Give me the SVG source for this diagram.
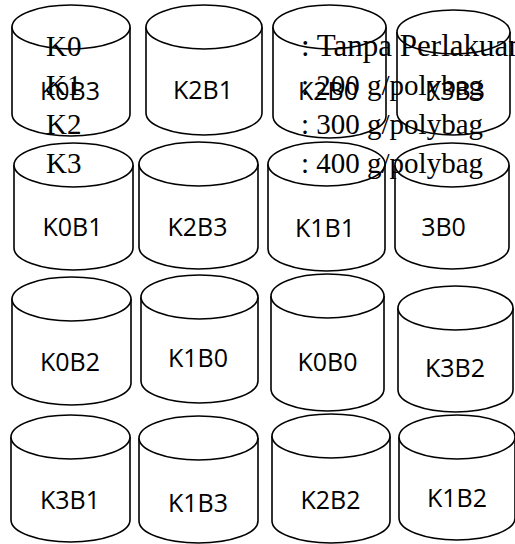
<svg xmlns="http://www.w3.org/2000/svg" width="515" height="544" viewBox="0 0 515 544">
<style>
.cyl{fill:#fff;stroke:#000;stroke-width:1.6}
.lbl{font-family:"Open Sans","Noto Sans","Liberation Sans",sans-serif;font-size:25px;fill:#000;text-anchor:middle}
.leg{font-family:"Liberation Serif","Times New Roman",serif;font-size:29px;fill:#000}
</style>
<rect width="515" height="544" fill="#fff"/>
<g id="nodes">
<g id="n-K0B3"><path class="cyl" d="M12,27 L12,114 A59,22 0 0 0 130,114 L130,27"/><ellipse class="cyl" cx="71" cy="27" rx="59" ry="22"/><text class="lbl" x="70" y="100">K0B3</text></g>
<g id="n-K2B1"><path class="cyl" d="M146,27 L146,113 A58,22 0 0 0 262,113 L262,27"/><ellipse class="cyl" cx="204" cy="27" rx="58" ry="22"/><text class="lbl" x="203" y="99">K2B1</text></g>
<g id="n-K2B0"><path class="cyl" d="M273,27 L273,116 A56.5,22 0 0 0 386,116 L386,27"/><ellipse class="cyl" cx="329.5" cy="27" rx="56.5" ry="22"/><text class="lbl" x="328" y="100">K2B0</text></g>
<g id="n-K3B3"><path class="cyl" d="M397,32 L397,113 A56.5,22 0 0 0 510,113 L510,32"/><ellipse class="cyl" cx="453.5" cy="32" rx="56.5" ry="22"/><text class="lbl" x="455" y="100">K3B3</text></g>

<g id="n-K0B1"><path class="cyl" d="M14,165 L14,248 A59.5,22 0 0 0 133,248 L133,165"/><ellipse class="cyl" cx="73.5" cy="165" rx="59.5" ry="22"/><text class="lbl" x="72.5" y="236">K0B1</text></g>
<g id="n-K2B3"><path class="cyl" d="M139,164 L139,247 A59.5,22 0 0 0 258,247 L258,164"/><ellipse class="cyl" cx="198.5" cy="164" rx="59.5" ry="22"/><text class="lbl" x="197.5" y="236">K2B3</text></g>
<g id="n-K1B1"><path class="cyl" d="M268,164 L268,249 A58.5,22 0 0 0 385,249 L385,164"/><ellipse class="cyl" cx="326.5" cy="164" rx="58.5" ry="22"/><text class="lbl" x="325" y="237">K1B1</text></g>
<g id="n-3B0"><path class="cyl" d="M395,165 L395,247 A57,22 0 0 0 509,247 L509,165"/><ellipse class="cyl" cx="452" cy="165" rx="57" ry="22"/><text class="lbl" x="443.5" y="236">3B0</text></g>

<g id="n-K0B2"><path class="cyl" d="M12,299 L12,383 A59.5,22 0 0 0 131,383 L131,299"/><ellipse class="cyl" cx="71.5" cy="299" rx="59.5" ry="22"/><text class="lbl" x="70" y="371">K0B2</text></g>
<g id="n-K1B0"><path class="cyl" d="M141,297 L141,381 A58.5,22 0 0 0 258,381 L258,297"/><ellipse class="cyl" cx="199.5" cy="297" rx="58.5" ry="22"/><text class="lbl" x="198" y="367">K1B0</text></g>
<g id="n-K0B0"><path class="cyl" d="M271,296 L271,389 A56.5,22 0 0 0 384,389 L384,296"/><ellipse class="cyl" cx="327.5" cy="296" rx="56.5" ry="22"/><text class="lbl" x="327.5" y="371">K0B0</text></g>
<g id="n-K3B2"><path class="cyl" d="M398,308 L398,390 A57.5,22 0 0 0 513,390 L513,308"/><ellipse class="cyl" cx="455.5" cy="308" rx="57.5" ry="22"/><text class="lbl" x="455" y="377">K3B2</text></g>

<g id="n-K3B1"><path class="cyl" d="M11,437 L11,520 A59.5,22 0 0 0 130,520 L130,437"/><ellipse class="cyl" cx="70.5" cy="437" rx="59.5" ry="22"/><text class="lbl" x="70" y="509">K3B1</text></g>
<g id="n-K1B3"><path class="cyl" d="M139,438 L139,521 A59.5,22 0 0 0 258,521 L258,438"/><ellipse class="cyl" cx="198.5" cy="438" rx="59.5" ry="22"/><text class="lbl" x="198" y="512">K1B3</text></g>
<g id="n-K2B2"><path class="cyl" d="M272,436 L272,521 A59,22 0 0 0 390,521 L390,436"/><ellipse class="cyl" cx="331" cy="436" rx="59" ry="22"/><text class="lbl" x="330.5" y="509">K2B2</text></g>
<g id="n-K1B2"><path class="cyl" d="M399,437 L399,518 A58,22 0 0 0 515,518 L515,437"/><ellipse class="cyl" cx="457" cy="437" rx="58" ry="22"/><text class="lbl" x="457" y="507">K1B2</text></g>
</g>
<g id="connectors"/>
<g id="legend">
<text class="leg" x="46" y="56">K0</text>
<text class="leg" x="46" y="95">K1</text>
<text class="leg" x="46" y="134">K2</text>
<text class="leg" x="46" y="173">K3</text>
<text class="leg" x="301" y="56" style="font-size:31px">: Tanpa Perlakuan</text>
<text class="leg" x="301" y="95">: 200 g/polybag</text>
<text class="leg" x="301" y="134">: 300 g/polybag</text>
<text class="leg" x="301" y="173">: 400 g/polybag</text>
</g>
</svg>
